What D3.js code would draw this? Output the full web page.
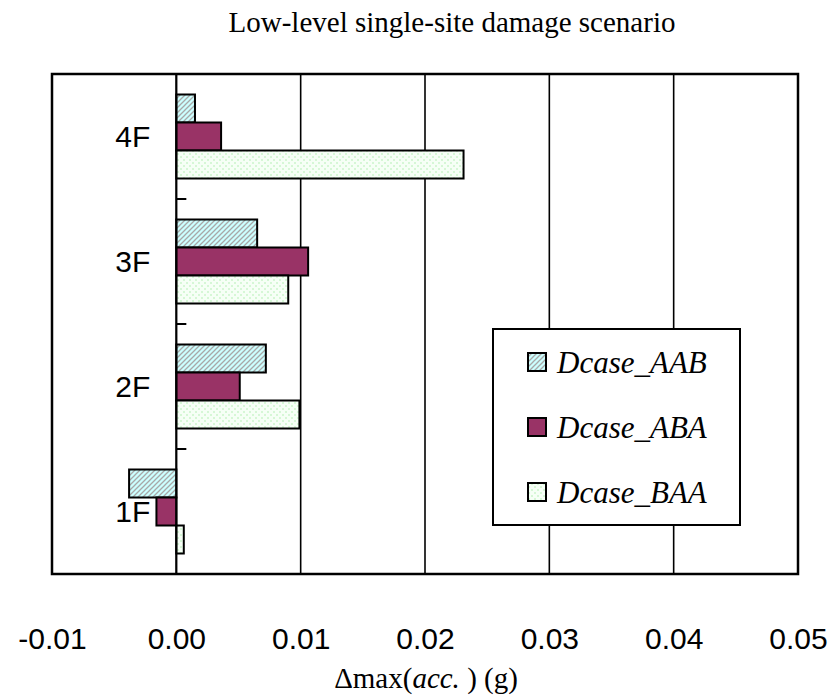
<!DOCTYPE html>
<html>
<head>
<meta charset="utf-8">
<script src="https://cdn.jsdelivr.net/npm/d3@7"></script>
<style>
  html, body { margin: 0; padding: 0; background: #fff; }
  svg { display: block; }
  .sans { font-family: 'Liberation Sans', Arial, sans-serif; }
  .serif { font-family: 'Liberation Serif', 'Times New Roman', Times, serif; }
</style>
</head>
<body>
<svg id="chart" width="830" height="697"></svg>
<script>
// Floors, top to bottom
const floors = ["4F", "3F", "2F", "1F"];
// Damage cases (series)
const seriesNames = ["Dcase_AAB", "Dcase_ABA", "Dcase_BAA"];
// Change of peak acceleration (g) per floor, same order as floors
const valuesAAB = [0.0015, 0.0065, 0.0072, -0.0038];
const valuesABA = [0.0036, 0.0106, 0.0051, -0.0016];
const valuesBAA = [0.0231, 0.0090, 0.0099, 0.0006];
// Value axis ticks
const xTicks = [-0.01, 0.00, 0.01, 0.02, 0.03, 0.04, 0.05];

const seriesValues = [valuesAAB, valuesABA, valuesBAA];
const rows = [];
floors.forEach((f, i) => {
  seriesNames.forEach((s, j) => rows.push({ floor: f, series: s, value: seriesValues[j][i] }));
});

const svg = d3.select("#chart");
const plot = { left: 52, right: 798, top: 74, bottom: 574 };

const x = d3.scaleLinear().domain([-0.01, 0.05]).range([plot.left, plot.right]);
const y = d3.scaleBand().domain(floors).range([plot.top, plot.bottom])
  .paddingInner(0.328).paddingOuter(0.164);
const ySub = d3.scaleBand().domain(seriesNames).range([0, y.bandwidth()]);

// Fill patterns
const defs = svg.append("defs");
const hatch = defs.append("pattern").attr("id", "pat-aab")
  .attr("patternUnits", "userSpaceOnUse").attr("width", 5).attr("height", 5);
hatch.append("rect").attr("width", 5).attr("height", 5).attr("fill", "#ccffff");
hatch.append("path").attr("d", "M-1,6 L6,-1 M-1,1 L1,-1 M4,6 L6,4")
  .attr("stroke", "#a8a8a8").attr("stroke-width", 1.3);

const dots = defs.append("pattern").attr("id", "pat-baa")
  .attr("patternUnits", "userSpaceOnUse").attr("width", 6).attr("height", 6);
dots.append("rect").attr("width", 6).attr("height", 6).attr("fill", "#f6fff6");
dots.append("rect").attr("x", 0).attr("y", 0).attr("width", 2).attr("height", 2).attr("fill", "#d6f7d6");
dots.append("rect").attr("x", 3).attr("y", 3).attr("width", 2).attr("height", 2).attr("fill", "#d6f7d6");

const fills = { "Dcase_AAB": "url(#pat-aab)", "Dcase_ABA": "#993366", "Dcase_BAA": "url(#pat-baa)" };

// Vertical gridlines
svg.append("g").selectAll("line")
  .data(xTicks.filter(t => t > -0.01 && t < 0.05))
  .join("line")
  .attr("x1", d => x(d)).attr("x2", d => x(d))
  .attr("y1", plot.top).attr("y2", plot.bottom)
  .attr("stroke", "#000").attr("stroke-width", 1.6);

// Bars
svg.append("g").selectAll("rect")
  .data(rows)
  .join("rect")
  .attr("x", d => x(Math.min(0, d.value)))
  .attr("width", d => Math.abs(x(d.value) - x(0)))
  .attr("y", d => y(d.floor) + ySub(d.series))
  .attr("height", ySub.bandwidth())
  .attr("fill", d => fills[d.series])
  .attr("stroke", "#000").attr("stroke-width", 2);

// Category axis at zero, ticks between floors
const catAxis = svg.append("g");
catAxis.append("line")
  .attr("x1", x(0)).attr("x2", x(0)).attr("y1", plot.top).attr("y2", plot.bottom)
  .attr("stroke", "#000").attr("stroke-width", 2);
catAxis.selectAll("line.tick")
  .data(floors.slice(1))
  .join("line").attr("class", "tick")
  .attr("x1", x(0)).attr("x2", x(0) + 10)
  .attr("y1", d => y(d) - y.step() * y.paddingInner() / 2)
  .attr("y2", d => y(d) - y.step() * y.paddingInner() / 2)
  .attr("stroke", "#000").attr("stroke-width", 2);
catAxis.selectAll("text")
  .data(floors)
  .join("text")
  .attr("class", "sans")
  .attr("x", x(0) - 26)
  .attr("y", d => y(d) + y.bandwidth() / 2)
  .attr("dy", "0.36em")
  .attr("text-anchor", "end")
  .attr("font-size", 30)
  .text(d => d);

// Plot frame
svg.append("rect")
  .attr("x", plot.left).attr("y", plot.top)
  .attr("width", plot.right - plot.left).attr("height", plot.bottom - plot.top)
  .attr("fill", "none").attr("stroke", "#000").attr("stroke-width", 2.5);

// Value axis labels
const fmt = d3.format(".2f");
const xAxis = d3.axisBottom(x).tickValues(xTicks)
  .tickFormat(d => fmt(d).replace("\u2212", "-")).tickSize(0).tickPadding(0);
const xg = svg.append("g").attr("transform", `translate(0,${plot.bottom})`).call(xAxis);
xg.select(".domain").remove();
xg.attr("font-family", null).attr("font-size", null);
xg.selectAll("text")
  .attr("class", "sans")
  .attr("y", 75).attr("dy", 0)
  .attr("font-size", 30).attr("fill", "#000");

// Title
svg.append("text")
  .attr("class", "serif")
  .attr("x", 452).attr("y", 32)
  .attr("text-anchor", "middle")
  .attr("font-size", 29)
  .text("Low-level single-site damage scenario");

// Axis title
const xt = svg.append("text")
  .attr("class", "serif")
  .attr("x", 426).attr("y", 688)
  .attr("text-anchor", "middle")
  .attr("font-size", 29);
xt.append("tspan").text("\u0394max(");
xt.append("tspan").attr("font-style", "italic").text("acc.");
xt.append("tspan").text(" ) (g)");

// Legend
const lg = svg.append("g");
lg.append("rect")
  .attr("x", 493).attr("y", 329).attr("width", 247).attr("height", 196)
  .attr("fill", "#fff").attr("stroke", "#000").attr("stroke-width", 2);
const item = lg.selectAll("g.item")
  .data(seriesNames)
  .join("g").attr("class", "item")
  .attr("transform", (d, i) => `translate(528,${362 + i * 65})`);
item.append("rect")
  .attr("x", 0).attr("y", -9).attr("width", 18).attr("height", 18)
  .attr("fill", d => fills[d]).attr("stroke", "#000").attr("stroke-width", 2);
item.append("text")
  .attr("class", "serif")
  .attr("x", 29).attr("y", 0).attr("dy", "0.35em")
  .attr("font-style", "italic")
  .attr("font-size", 31)
  .text(d => d);
</script>
</body>
</html>
